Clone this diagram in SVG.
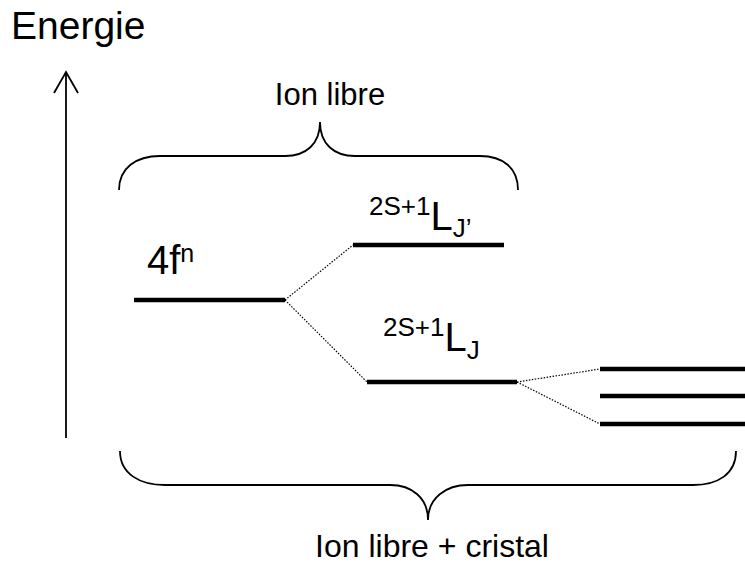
<svg xmlns="http://www.w3.org/2000/svg" width="745" height="563" viewBox="0 0 745 563">
<style>
text{font-family:"Liberation Sans",Arial,sans-serif;fill:#000}
.lvl{stroke:#000;stroke-width:4.5;fill:none}
.dot{stroke:#000;stroke-width:1.2;stroke-dasharray:1.5 1.5;fill:none}
.brace{stroke:#000;stroke-width:1.8;fill:none}
</style>
<rect width="745" height="563" fill="#fff"/>
<g id="axis">
<line x1="66" y1="72" x2="66" y2="438" stroke="#000" stroke-width="1.8"/>
<polyline points="54,93 66,72 78,93" stroke="#000" stroke-width="1.8" fill="none"/>
<text x="11" y="39" font-size="39">Energie</text>
</g>
<g id="brace-top">
<path class="brace" d="M119,190 C119,168 136,156 160,156 L285,156 C306,156 320,144 320,122 C320,144 334,156 355,156 L480,156 C503,156 518,168 518,190"/>
<text x="320" y="105" font-size="31" text-anchor="middle" dx="10">Ion libre</text>
</g>
<g id="level-4fn">
<line class="lvl" x1="134" y1="300" x2="285" y2="300"/>
<text x="147" y="274" font-size="40">4f<tspan font-size="25" dy="-12">n</tspan></text>
</g>
<g id="level-LJp">
<line class="lvl" x1="353" y1="245" x2="504" y2="245"/>
<text x="369" y="215" font-size="26">2S+1<tspan font-size="40" dy="15">L</tspan><tspan font-size="26" dy="7">J’</tspan></text>
</g>
<g id="level-LJ">
<line class="lvl" x1="367" y1="382" x2="517" y2="382"/>
<text x="383" y="336" font-size="26">2S+1<tspan font-size="40" dy="15">L</tspan><tspan font-size="26" dy="8">J</tspan></text>
</g>
<g id="stark-levels">
<line class="lvl" x1="600" y1="369" x2="745" y2="369"/>
<line class="lvl" x1="600" y1="396" x2="745" y2="396"/>
<line class="lvl" x1="600" y1="424" x2="745" y2="424"/>
</g>
<g id="connectors">
<line class="dot" x1="285" y1="300" x2="353" y2="245"/>
<line class="dot" x1="285" y1="300" x2="367" y2="382"/>
<line class="dot" x1="517" y1="382" x2="600" y2="369"/>
<line class="dot" x1="517" y1="382" x2="600" y2="424"/>
</g>
<g id="brace-bottom">
<path class="brace" d="M120,451 C120,474 140,485 165,485 L390,485 C412,485 428,498 428,520 C428,498 446,485 468,485 L693,485 C718,485 736,474 736,451"/>
<text x="432" y="557" font-size="32" text-anchor="middle">Ion libre + cristal</text>
</g>
</svg>
